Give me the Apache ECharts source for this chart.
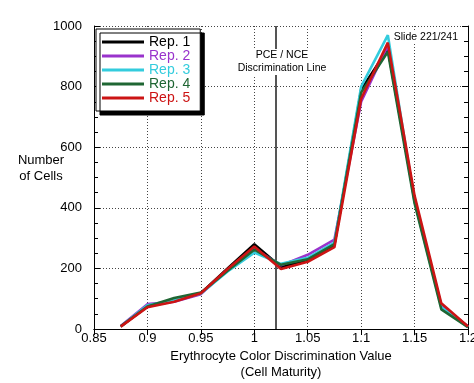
<!DOCTYPE html>
<html>
<head>
<meta charset="utf-8">
<script src="https://cdn.jsdelivr.net/npm/echarts@6/dist/echarts.min.js"></script>
<style>
  html, body { margin: 0; padding: 0; background: #fff; }
  #chart { width: 474px; height: 383px; }
</style>
</head>
<body>
<div id="chart"></div>
<script>
// discrimination value bins
const xValues = [0.875, 0.9, 0.925, 0.95, 0.975, 1.0, 1.025, 1.05, 1.075, 1.1, 1.125, 1.15, 1.175, 1.2]
const rep1 = [8, 75, 92, 118, 200, 280, 205, 225, 278, 790, 925, 430, 75, 8]
const rep2 = [10, 82, 90, 115, 195, 265, 210, 245, 295, 750, 935, 425, 78, 8]
const rep3 = [8, 78, 95, 117, 190, 252, 215, 235, 285, 800, 970, 420, 72, 6]
const rep4 = [9, 74, 102, 120, 192, 262, 212, 230, 280, 780, 915, 415, 65, 6]
const rep5 = [8, 72, 90, 118, 198, 272, 198, 222, 270, 760, 945, 440, 85, 8]
const seriesNames = ['Rep. 1', 'Rep. 2', 'Rep. 3', 'Rep. 4', 'Rep. 5']
const seriesColors = ['#000000', '#9933cc', '#33ccdd', '#1f6633', '#cc1414']
const discriminationX = 1.025

const font = 'Liberation Sans, Arial, sans-serif'
const chart = echarts.init(document.getElementById('chart'))

const allReps = [rep1, rep2, rep3, rep4, rep5]

const series = allReps.map((vals, i) => ({
  name: seriesNames[i],
  type: 'line',
  symbol: 'none',
  data: vals.map((v, j) => [xValues[j], v]),
  lineStyle: { color: seriesColors[i], width: 2.6 },
  itemStyle: { color: seriesColors[i] },
  z: 3 + i,
}))

// vertical PCE / NCE line
series[0].markLine = {
  silent: true,
  symbol: 'none',
  label: { show: false },
  lineStyle: { color: '#555', width: 2, type: 'solid' },
  data: [{ xAxis: discriminationX }],
}

const gridLine = { show: true, lineStyle: { color: '#444', type: [1, 2], width: 1 } }
const fmt = (v) => String(+v.toFixed(2))

const option = {
  animation: false,
  backgroundColor: '#fff',
  textStyle: { fontFamily: font },
  grid: { left: 94, right: 6, top: 26, bottom: 54, outerBoundsMode: 'none', containLabel: false },
  legend: {
    orient: 'vertical',
    left: 96,
    top: 29,
    padding: [6, 10, 6, 6],
    itemGap: 0,
    itemWidth: 42,
    itemHeight: 3,
    icon: 'rect',
    backgroundColor: '#fff',
    borderColor: '#000',
    borderWidth: 1,
    shadowColor: '#000',
    shadowOffsetX: 4,
    shadowOffsetY: 4,
    shadowBlur: 0,
    data: seriesNames.map((n, i) => ({
      name: n,
      textStyle: { color: seriesColors[i], fontSize: 14, lineHeight: 14, fontFamily: font },
    })),
  },
  xAxis: [
    {
      type: 'value',
      min: 0.85,
      max: 1.2,
      interval: 0.05,
      name: 'Erythrocyte Color Discrimination Value\n(Cell Maturity)',
      nameLocation: 'middle',
      nameGap: 19,
      nameMoveOverlap: false,
      nameTextStyle: { color: '#000', fontSize: 13, lineHeight: 16, fontFamily: font },
      axisLine: { show: true, lineStyle: { color: '#000', width: 1 } },
      axisTick: { show: false },
      axisLabel: { color: '#000', fontSize: 13, margin: 3, formatter: fmt, fontFamily: font },
      splitLine: gridLine,
    },
    {
      type: 'value',
      position: 'top',
      min: 0.85,
      max: 1.2,
      interval: 0.05,
      axisLine: { show: true, lineStyle: { color: '#000', width: 1 } },
      axisTick: { show: true, inside: true, length: 6, lineStyle: { color: '#000' } },
      axisLabel: { show: false },
      splitLine: { show: false },
    },
  ],
  yAxis: [
    {
      type: 'value',
      min: 0,
      max: 1000,
      interval: 200,
      axisLine: { show: true, lineStyle: { color: '#000', width: 1 } },
      axisTick: { show: true, inside: true, length: 6, lineStyle: { color: '#000' } },
      minorTick: { show: true, splitNumber: 4, length: 4, lineStyle: { color: '#000' } },
      axisLabel: { color: '#000', fontSize: 13, margin: 12, formatter: (v) => String(v), fontFamily: font },
      splitLine: gridLine,
    },
    {
      type: 'value',
      position: 'right',
      min: 0,
      max: 1000,
      interval: 200,
      axisLine: { show: true, lineStyle: { color: '#000', width: 1 } },
      axisTick: { show: true, inside: true, length: 6, lineStyle: { color: '#000' } },
      minorTick: { show: true, splitNumber: 4, length: 4, lineStyle: { color: '#000' } },
      axisLabel: { show: false },
      splitLine: { show: false },
    },
  ],
  series: series,
}

chart.setOption(option)

// text annotations placed from axis coordinates
const linePos = chart.convertToPixel({ xAxisIndex: 0, yAxisIndex: 0 }, [discriminationX, 1000])
const rightTop = chart.convertToPixel({ xAxisIndex: 0, yAxisIndex: 0 }, [1.2, 1000])
const yMid = chart.convertToPixel({ xAxisIndex: 0, yAxisIndex: 0 }, [0.85, 530])
chart.setOption({
  graphic: [
    {
      type: 'text',
      x: yMid[0] - 53,
      y: yMid[1],
      z: 20,
      style: {
        text: 'Number\nof Cells',
        fill: '#000',
        font: '13px ' + font,
        align: 'center',
        verticalAlign: 'middle',
        lineHeight: 16,
      },
    },
    {
      type: 'text',
      x: linePos[0] + 1,
      y: linePos[1] + 23,
      z: 20,
      style: {
        text: 'PCE / NCE\nDiscrimination Line',
        fill: '#000',
        font: '10.5px ' + font,
        align: 'center',
        lineHeight: 13,
        backgroundColor: '#fff',
      },
    },
    {
      type: 'text',
      x: rightTop[0] - 10,
      y: rightTop[1] + 6,
      z: 20,
      style: {
        text: 'Slide 221/241',
        fill: '#000',
        font: '10.5px ' + font,
        align: 'right',
        backgroundColor: '#fff',
      },
    },
  ],
})
</script>
</body>
</html>
